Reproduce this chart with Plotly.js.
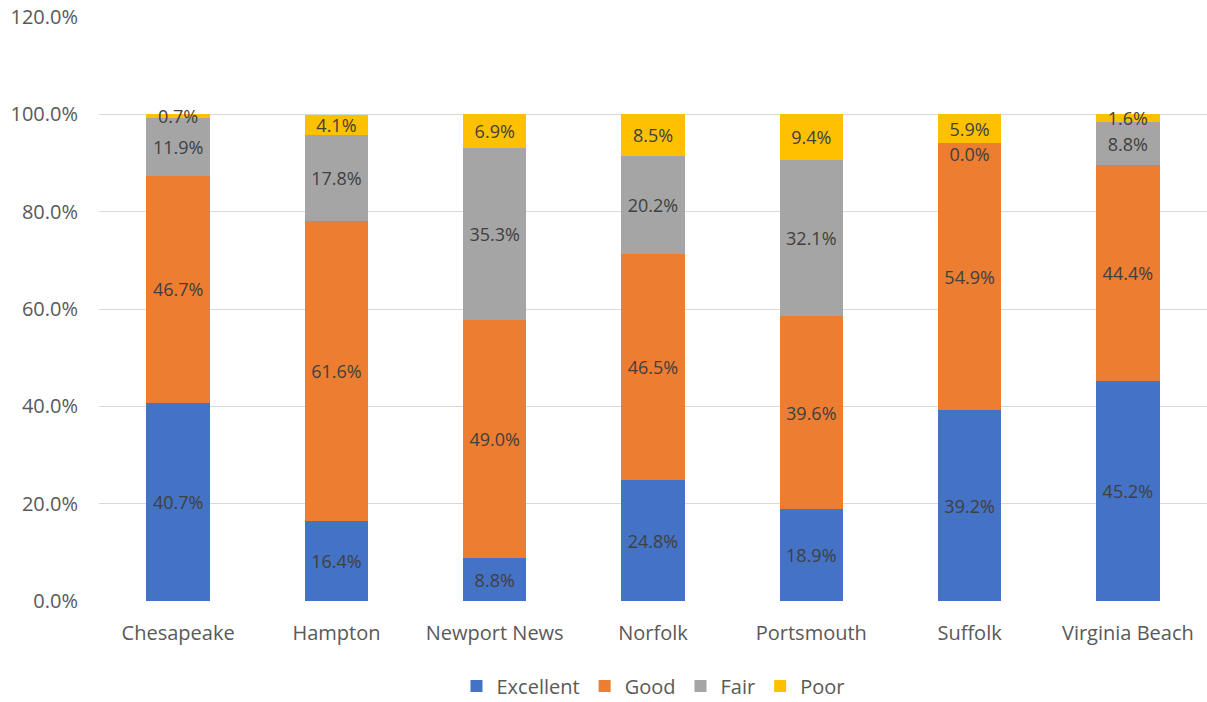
<!DOCTYPE html>
<html>
<head>
<meta charset="utf-8">
<script src="https://cdn.plot.ly/plotly-3.0.1.min.js"></script>
<style>html,body{margin:0;padding:0;background:#fff;}#chart{width:1207px;height:702px;}</style>
</head>
<body>
<div id="chart"></div>
<script>
const categories = ["Chesapeake", "Hampton", "Newport News", "Norfolk", "Portsmouth", "Suffolk", "Virginia Beach"];
const excellent = [40.7, 16.4, 8.8, 24.8, 18.9, 39.2, 45.2];
const good = [46.7, 61.6, 49.0, 46.5, 39.6, 54.9, 44.4];
const fair = [11.9, 17.8, 35.3, 20.2, 32.1, 0.0, 8.8];
const poor = [0.7, 4.1, 6.9, 8.5, 9.4, 5.9, 1.6];
const seriesNames = ["Excellent", "Good", "Fair", "Poor"];
const seriesColors = ["#4472C4", "#ED7D31", "#A5A5A5", "#FFC000"];
const seriesValues = [excellent, good, fair, poor];

const FONT = "Open Sans, Noto Sans, sans-serif";
const LABEL_SIZE = 18;
const AXIS_SIZE = 20;
const traces = seriesValues.map((vals, i) => ({
  type: "bar",
  name: seriesNames[i],
  x: categories,
  y: vals,
  marker: {color: seriesColors[i]},
  text: vals.map(v => v.toFixed(1) + "%"),
  textposition: "inside",
  insidetextanchor: "middle",
  textangle: 0,
  constraintext: "none",
  textfont: {family: FONT, size: LABEL_SIZE, color: "#404040"},
  hoverinfo: "x+y+name"
}));

// Labels for zero-height segments (Plotly skips text on empty bars)
const zx = [], zy = [], zt = [];
seriesValues.forEach((vals, i) => {
  vals.forEach((v, j) => {
    if (v === 0) {
      let base = 0;
      for (let k = 0; k < i; k++) base += seriesValues[k][j];
      zx.push(categories[j]); zy.push(base); zt.push(v.toFixed(1) + "%");
    }
  });
});
traces.push({
  type: "scatter", mode: "markers+text", x: zx, y: zy, text: zt,
  marker: {size: 6, color: "rgba(0,0,0,0)"},
  textposition: "bottom center", showlegend: false, hoverinfo: "skip",
  textfont: {family: FONT, size: LABEL_SIZE, color: "#404040"}
});

const layout = {
  width: 1207, height: 702,
  barmode: "stack",
  bargap: 0.6,
  paper_bgcolor: "#fff", plot_bgcolor: "#fff",
  margin: {l: 99, r: 0, t: 17, b: 101},
  font: {family: FONT, size: AXIS_SIZE, color: "#595959"},
  uniformtext: {mode: "show", minsize: LABEL_SIZE},
  xaxis: {
    showgrid: false, zeroline: false, showline: false, automargin: false,
    tickfont: {family: FONT, size: AXIS_SIZE, color: "#595959"},
    ticks: "", ticklabelstandoff: 18
  },
  yaxis: {
    range: [0, 120], tick0: 0, dtick: 20, automargin: false,
    ticksuffix: "%", tickformat: ".1f",
    showgrid: true, gridcolor: "#D9D9D9", gridwidth: 1,
    zeroline: false, showline: false, ticks: "",
    tickfont: {family: FONT, size: AXIS_SIZE, color: "#595959"},
    ticklabelstandoff: 20
  },
  legend: {
    orientation: "h", x: 0.5, xanchor: "center",
    yref: "container", y: 0.0228, yanchor: "middle",
    font: {family: FONT, size: AXIS_SIZE, color: "#595959"},
    traceorder: "normal", itemwidth: 30
  },
  showlegend: true
};

Plotly.newPlot("chart", traces, layout, {displayModeBar: false, staticPlot: true});
</script>
</body>
</html>
